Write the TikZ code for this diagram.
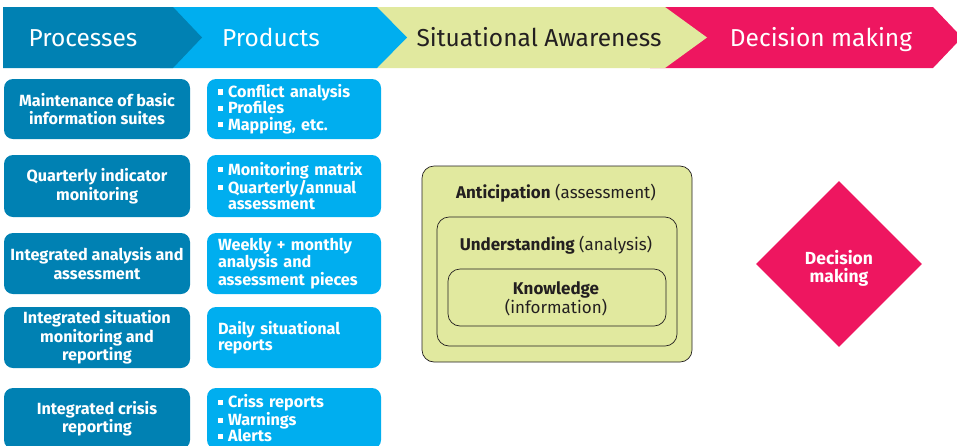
\documentclass[tikz,border=0pt]{standalone}
\usepackage{fontspec}
\setmainfont{Fira Sans}
\usetikzlibrary{shapes.geometric}
\definecolor{dblue}{HTML}{0081B3}
\definecolor{lblue}{HTML}{00AEEF}
\definecolor{lgreen}{HTML}{E1E99F}
\definecolor{magenta}{HTML}{EE1660}
\definecolor{ink}{HTML}{231F20}
\newcommand{\bul}{\rule[0.18em]{0.32em}{0.32em}\hspace{0.3em}}
\tikzset{
  hdrtext/.style={font=\fontsize{24.5}{28}\selectfont, anchor=base, inner sep=0pt},
  procbox/.style={fill=dblue, rounded corners=9pt, minimum width=186pt, text=white,
    font=\fontsize{16.2}{18.5}\selectfont\bfseries, align=center, inner sep=0pt},
  prodbox/.style={fill=lblue, rounded corners=9pt, minimum width=174pt, text=white,
    font=\fontsize{16.2}{16.3}\selectfont\bfseries, align=left, text width=152pt, inner xsep=11pt, inner ysep=0pt},
  sabox/.style={draw=ink, line width=0.7pt, fill=lgreen, rounded corners=12pt},
  satext/.style={text=ink, font=\fontsize{17}{17.5}\selectfont, align=center, inner sep=0pt},
}
\begin{document}
\begin{tikzpicture}[x=1pt,y=-1pt]
\useasboundingbox (0,0) rectangle (957,445);
\clip (0,0) rectangle (957,445);
% header chevrons
\fill[magenta] (650,7) -- (933,7) -- (962,37.5) -- (933,68) -- (650,68) -- cycle;
\fill[lgreen] (360,7) -- (665,7) -- (707,37.5) -- (665,68) -- (360,68) -- cycle;
\fill[lblue] (160,7) -- (377,7) -- (407,37.5) -- (377,68) -- (160,68) -- cycle;
\fill[dblue] (3,7) -- (173,7) -- (202,37.5) -- (173,68) -- (3,68) -- cycle;
\node[hdrtext, text=white] (hproc) at (83,46.5) {Processes};
\node[hdrtext, text=white] (hprod) at (271,46.5) {Products};
\node[hdrtext, text=ink] (hsa) at (539,46.5) {Situational Awareness};
\node[hdrtext, text=white] (hdm) at (821,46.5) {Decision making};
% process boxes
\node[procbox, minimum height=60pt] (p1) at (97,109) {Maintenance of basic\\information suites};
\node[procbox, minimum height=62pt] (p2) at (97,186) {Quarterly indicator\\monitoring};
\node[procbox, minimum height=61pt] (p3) at (97,263.5) {Integrated analysis and\\assessment};
\node[procbox, minimum height=61pt] (p4) at (97,337.5) {Integrated situation\\monitoring and\\reporting};
\node[procbox, minimum height=61pt] (p5) at (97,418.5) {Integrated crisis\\reporting};
% product boxes
\node[prodbox, minimum height=60pt] (q1) at (294,109) {\bul Conflict analysis\\\bul Profiles\\\bul Mapping, etc.};
\node[prodbox, minimum height=62pt] (q2) at (294,186) {\bul Monitoring matrix\\\bul Quarterly/annual\\\hspace*{0.62em}assessment};
\node[prodbox, minimum height=61pt] (q3) at (294,263.5) {Weekly + monthly\\analysis and\\assessment pieces};
\node[prodbox, minimum height=61pt] (q4) at (294,337.5) {Daily situational\\reports};
\node[prodbox, minimum height=61pt] (q5) at (294,418.5) {\bul Criss reports\\\bul Warnings\\\bul Alerts};
% situational awareness nested boxes
\draw[sabox] (422,166) rectangle (692,362);
\draw[sabox] (437,217) rectangle (677,346);
\draw[sabox] (448,269) rectangle (666,326);
\node[satext] (ant) at (556,193) {\textbf{Anticipation} (assessment)};
\node[satext] (und) at (556,245) {\textbf{Understanding} (analysis)};
\node[satext] (kno) at (556,299) {\textbf{Knowledge}\\(information)};
% decision diamond
\node[diamond, fill=magenta, minimum width=166pt, minimum height=166pt, inner sep=0pt] (dm) at (839,264) {};
\node[text=white, font=\fontsize{17.5}{18}\selectfont\bfseries, align=center, inner sep=0pt] (dmtext) at (839,268) {Decision\\making};
\end{tikzpicture}
\end{document}
